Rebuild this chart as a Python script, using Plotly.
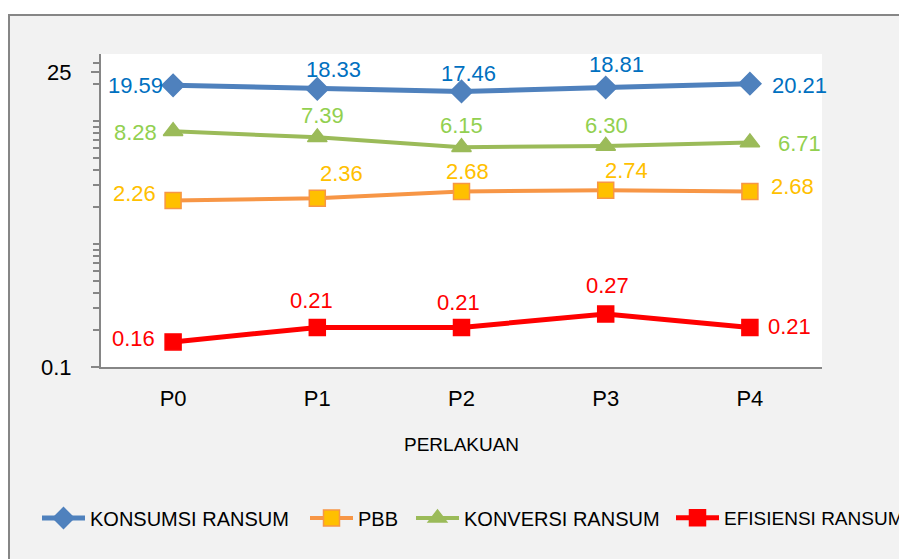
import math
import plotly.graph_objects as go

categories = ["P0", "P1", "P2", "P3", "P4"]
konsumsi = [19.59, 18.33, 17.46, 18.81, 20.21]
pbb = [2.26, 2.36, 2.68, 2.74, 2.68]
konversi = [8.28, 7.39, 6.15, 6.30, 6.71]
efisiensi = [0.16, 0.21, 0.21, 0.27, 0.21]

series_names = ["KONSUMSI RANSUM", "PBB", "KONVERSI RANSUM", "EFISIENSI RANSUM"]
y_tick_vals = [0.1, 25]
y_tick_text = ["0.1", "25"]
y_minor_vals = [0.2, 0.3, 0.4, 0.5, 0.6, 0.7, 0.8, 0.9, 1, 2, 3, 4, 5, 6, 7, 8, 9, 10, 20, 30]

# label offsets in pixels (dx, dy up)
off_konsumsi = [(-38, 0), (16, 19), (7, 18), (11, 23), (50, -2)]
off_pbb = [(-39, 7), (24, 25), (6, 20), (21, 20), (43, 5)]
off_konversi = [(-38, -1), (5, 22), (0, 22), (1, 20), (50, -1)]
off_efisiensi = [(-40, 3), (-6, 27), (-3, 25), (2, 28), (40, 1)]

FONT = "Liberation Sans, Arial, sans-serif"

# figure is drawn 8px in from the page edge (body margin), so coordinates are page-8
W, H = 899, 551
L, T = 93, 46
R = W - 814
B = H - 359
pw, ph = W - L - R, H - T - B

def px(x):
    return (x - L) / pw

def py(y):
    return (H - B - y) / ph

legend_ids = ["legend", "legend2", "legend3", "legend4"]
legend_x = [29, 297, 403, 663]
legend_size = [20, 20, 20, 19]

styles = [
    dict(vals=konsumsi, line="#4F81BD", width=5, symbol="diamond", size=17,
         mfill="#4F81BD", mline="#4F81BD", lab="#0070C0", off=off_konsumsi),
    dict(vals=pbb, line="#F79646", width=4, symbol="square", size=16,
         mfill="#FFC000", mline="#F79646", lab="#FFC000", off=off_pbb),
    dict(vals=konversi, line="#9BBB59", width=4, symbol="triangle-up", size=17,
         mfill="#9BBB59", mline="#9BBB59", lab="#92D050", off=off_konversi),
    dict(vals=efisiensi, line="#FF0000", width=5, symbol="square", size=16,
         mfill="#FF0000", mline="#FF0000", lab="#FF0000", off=off_efisiensi),
]

fig = go.Figure()
annotations = []
for name, st, lid in zip(series_names, styles, legend_ids):
    fig.add_trace(go.Scatter(
        x=categories, y=st["vals"], name=name, mode="lines+markers", legend=lid,
        line=dict(color=st["line"], width=st["width"]),
        marker=dict(symbol=st["symbol"], size=st["size"], color=st["mfill"],
                    line=dict(color=st["mline"], width=1.5)),
    ))
    for c, v, (dx, dy) in zip(categories, st["vals"], st["off"]):
        annotations.append(dict(
            x=c, y=math.log10(v), xref="x", yref="y",
            text=f"{v:.2f}", showarrow=False, xshift=dx, yshift=dy,
            font=dict(family=FONT, size=22, color=st["lab"]),
        ))

annotations.append(dict(
    x=0.5, y=py(436), xref="paper", yref="paper", text="PERLAKUAN",
    xanchor="center", yanchor="middle",
    showarrow=False, font=dict(family=FONT, size=19, color="#000000"),
))

shapes = [
    dict(type="rect", xref="paper", yref="paper", layer="below",
         x0=px(1), x1=px(960), y0=py(620), y1=py(7),
         fillcolor="#F2F2F2", line=dict(color="#868686", width=2)),
    dict(type="rect", xref="paper", yref="paper", layer="below",
         x0=0, x1=1, y0=0, y1=1, fillcolor="#FFFFFF", line=dict(width=0)),
]

legend_layout = {}
for lid, lx, ls in zip(legend_ids, legend_x, legend_size):
    legend_layout[lid] = dict(
        orientation="h", xref="container", yref="container",
        x=lx / W, y=1 - 510 / H, xanchor="left", yanchor="middle",
        font=dict(family=FONT, size=ls, color="#000000"),
        bgcolor="rgba(0,0,0,0)", itemwidth=43, borderwidth=0,
    )

fig.update_layout(
    width=W, height=H,
    margin=dict(l=L, r=R, t=T, b=B, pad=0, autoexpand=False),
    paper_bgcolor="#FFFFFF", plot_bgcolor="#FFFFFF",
    font=dict(family=FONT, size=19, color="#000000"),
    showlegend=True,
    shapes=shapes,
    annotations=annotations,
    xaxis=dict(type="category", range=[-0.5, 4.5], showgrid=False, zeroline=False,
               showline=True, linecolor="#868686", linewidth=2,
               ticks="", ticklabelstandoff=11,
               tickfont=dict(family=FONT, size=22, color="#000000")),
    yaxis=dict(type="log", range=[-1, 1.547], showgrid=False, zeroline=False,
               showline=True, linecolor="#868686", linewidth=2,
               tickmode="array", tickvals=y_tick_vals, ticktext=y_tick_text,
               ticks="outside", ticklen=8, tickwidth=1.5, tickcolor="#868686",
               ticklabelstandoff=15,
               tickfont=dict(family=FONT, size=22, color="#000000"),
               minor=dict(tickmode="array", tickvals=y_minor_vals, ticks="outside",
                          ticklen=6, tickwidth=1.5, tickcolor="#868686", showgrid=False)),
    **legend_layout,
)

fig.write_html("out.html")
